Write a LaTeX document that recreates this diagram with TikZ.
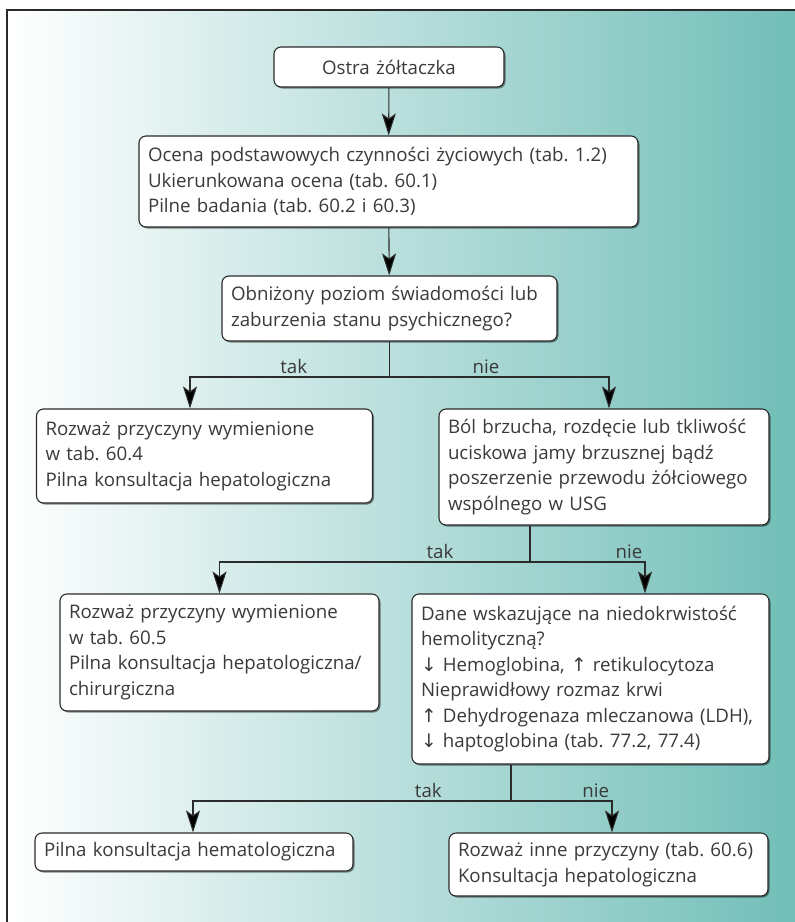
\documentclass[tikz,border=0pt]{standalone}
\usepackage{fontspec}
\setmainfont{Open Sans}
\newfontfamily\arrfont{DejaVu Sans}
\usepackage{xcolor}
\usepackage{tikz}
\usetikzlibrary{arrows.meta,shadows}
\frenchspacing

\definecolor{tealend}{HTML}{72BEB8}
\definecolor{framegray}{HTML}{2B2B2B}
\definecolor{textgray}{HTML}{3A3A3A}
\newcommand{\arrdn}{{\arrfont\char"2193}}
\newcommand{\arrup}{{\arrfont\char"2191}}

\begin{document}
\begin{tikzpicture}[x=1pt, y=-1pt,
    box/.style={draw=framegray, line width=1.1pt, rounded corners=7pt, fill=white,
        align=left, inner xsep=9pt, inner ysep=4pt, text=textgray,
        font=\fontsize{18.7}{25.5}\selectfont,
        drop shadow={shadow xshift=1.5pt, shadow yshift=-1.5pt, opacity=.45, fill=black}},
    line/.style={draw=framegray, line width=1.1pt},
    arr/.style={line, -{Stealth[length=22pt, width=14pt, inset=5pt, fill=black]}},
    lbl/.style={anchor=south, inner sep=3pt, text=textgray, font=\fontsize{18.7}{22}\selectfont}]
\useasboundingbox (0,0) rectangle (795,922);

% background and frame
\shade[left color=white, right color=tealend] (7,10) rectangle (795,922);
\draw[framegray, line width=2.2pt] (7,922) -- (7,10) -- (795,10);

% boxes
\node[box, align=center, text width=212pt, minimum height=40pt] (start) at (389,67) {Ostra żółtaczka};
\node[box, text width=481pt, minimum height=91pt] (assess) at (388.5,181.5)
    {Ocena podstawowych czynności życiowych (tab. 1.2)\\
     Ukierunkowana ocena (tab. 60.1)\\
     Pilne badania (tab. 60.2 i 60.3)};
\node[box, text width=317pt, minimum height=65pt] (consc) at (389.5,308.5)
    {Obniżony poziom świadomości lub\\
     zaburzenia stanu psychicznego?};
\node[box, text width=318pt, minimum height=94pt] (causes1) at (204.5,456)
    {Rozważ przyczyny wymienione\\
     w tab. 60.4\\
     Pilna konsultacja hepatologiczna};
\node[box, text width=312pt, minimum height=116pt] (abdo) at (604,467)
    {Ból brzucha, rozdęcie lub tkliwość\\
     uciskowa jamy brzusznej bądź\\
     poszerzenie przewodu żółciowego\\
     wspólnego w USG};
\node[box, text width=301pt, minimum height=117pt] (causes2) at (219.5,652.5)
    {Rozważ przyczyny wymienione\\
     w tab. 60.5\\
     Pilna konsultacja hepatologiczna/\\
     chirurgiczna};
\node[box, text width=339pt, minimum height=170pt] (hemol) at (590.5,679)
    {Dane wskazujące na niedokrwistość\\
     hemolityczną?\\
     \arrdn\ Hemoglobina, \arrup\ retikulocytoza\\
     Nieprawidłowy rozmaz krwi\\
     \arrup\ Dehydrogenaza mleczanowa (LDH),\\
     \arrdn\ haptoglobina (tab. 77.2, 77.4)};
\node[box, text width=300pt, minimum height=38pt] (hemat) at (194,852)
    {Pilna konsultacja hematologiczna};
\node[box, text width=301pt, minimum height=63pt] (other) at (608.5,864.5)
    {Rozważ inne przyczyny (tab. 60.6)\\
     Konsultacja hepatologiczna};

% connectors
\draw[arr] (start) -- (assess);
\draw[arr] (assess) -- (consc);

\coordinate (j1) at (389.5,377);
\draw[line] (consc.south) -- (j1);
\draw[arr] (j1) -| node[lbl, pos=.24] {tak} ([xshift=-14.5pt]causes1.north);
\draw[arr] (j1) -| node[lbl, pos=.22] {nie} ([xshift=5pt]abdo.north);

\coordinate (j2) at (530,562);
\draw[line] (j2 |- abdo.south) -- (j2);
\draw[arr] (j2) -| node[lbl, pos=.145] {tak} (causes2.north);
\draw[arr] (j2) -| node[lbl, pos=.43] {nie} ([xshift=54.5pt]hemol.north);

\coordinate (j3) at (511,801);
\draw[line] (j3 |- hemol.south) -- (j3);
\draw[arr] (j3) -| node[lbl, pos=.13] {tak} ([xshift=-1pt]hemat.north);
\draw[arr] (j3) -| node[lbl, pos=.42] {nie} ([xshift=3.5pt]other.north);
\end{tikzpicture}
\end{document}
